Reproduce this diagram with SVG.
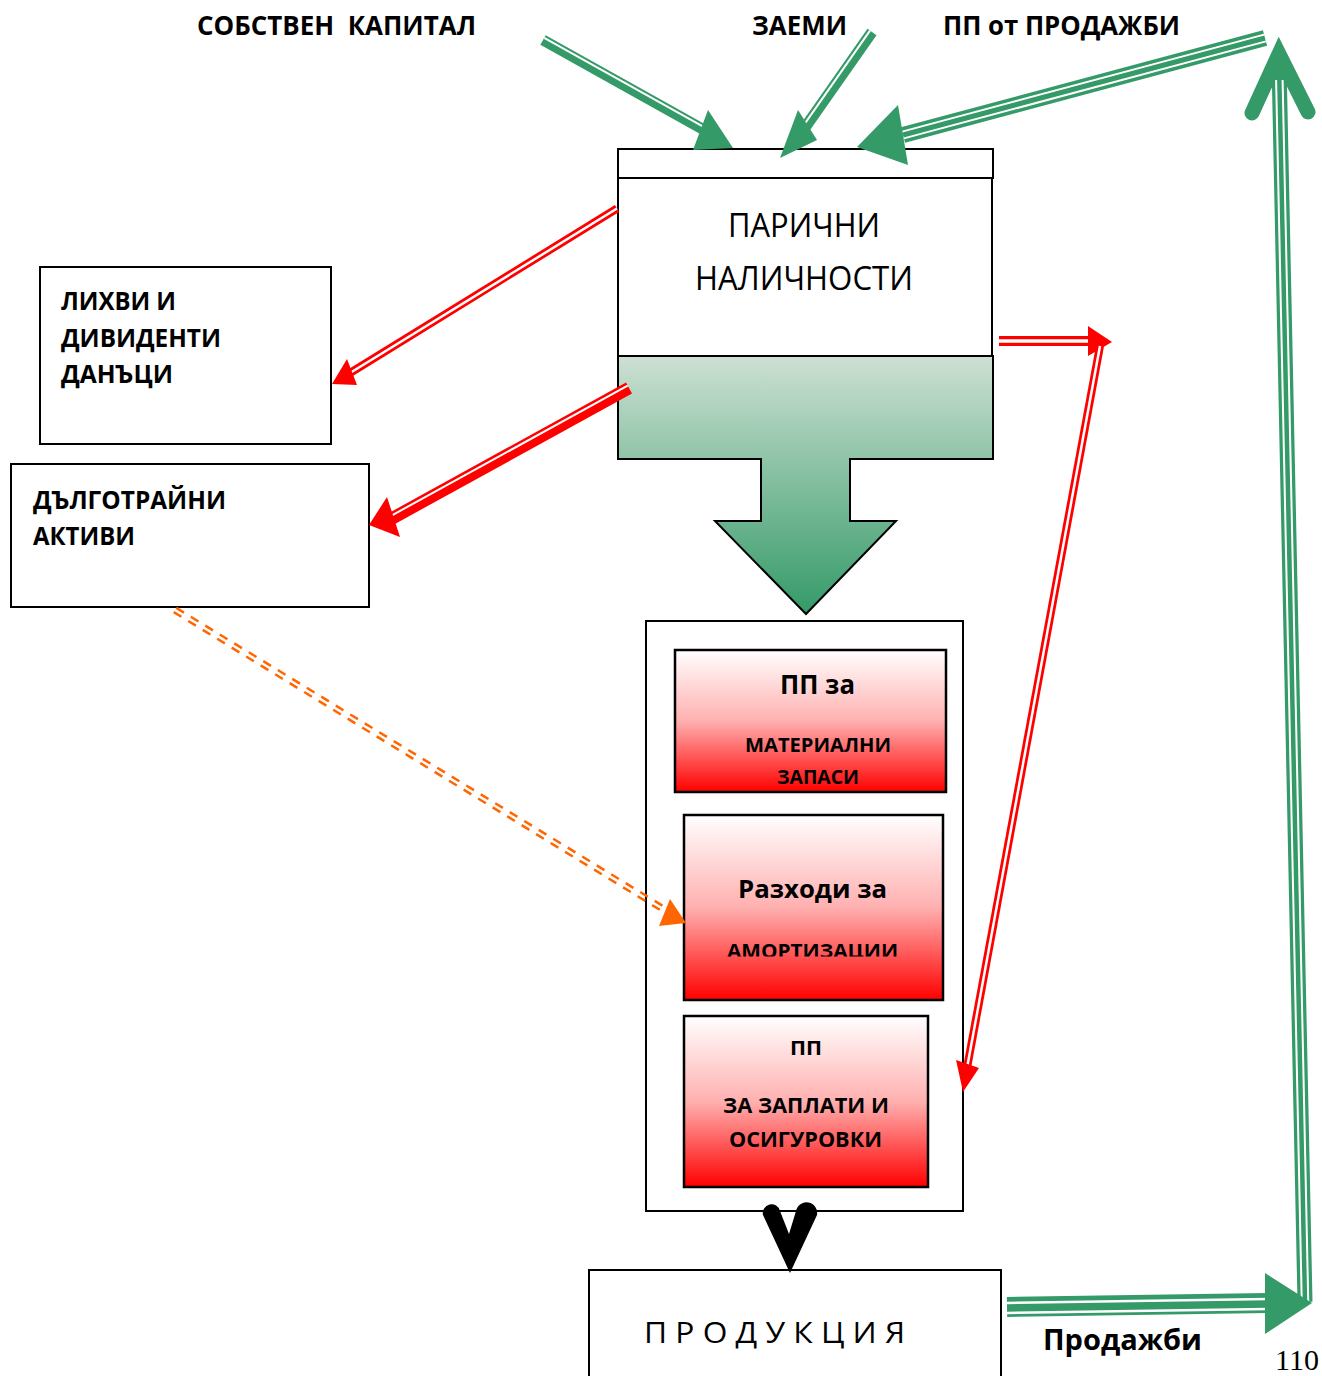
<svg xmlns="http://www.w3.org/2000/svg" width="1322" height="1376" viewBox="0 0 1322 1376">
<style>
.b{font-family:"Open Sans","Noto Sans",sans-serif;font-weight:700;fill:#000}
.n{font-family:"Open Sans","Noto Sans",sans-serif;font-weight:400;fill:#000}
.box{fill:#fff;stroke:#000;stroke-width:2}
.rbox{fill:url(#redg);stroke:#000;stroke-width:2.5}
.g{stroke:#349a68;fill:none}
.gf{fill:#349a68}
.w{stroke:#fff;fill:none}
.rd{stroke:#ff0000;fill:none}
.rf{fill:#ff0000}
.or{stroke:#ff6600;stroke-width:2.5;stroke-dasharray:9 8;fill:none}
.of{fill:#ff6600}
</style>
<defs>
<linearGradient id="redg" x1="0" y1="0" x2="0" y2="1">
<stop offset="0" stop-color="#ffffff"/>
<stop offset="0.5" stop-color="#ffb0b0"/>
<stop offset="1" stop-color="#ff0000"/>
</linearGradient>
<linearGradient id="greeng" gradientUnits="userSpaceOnUse" x1="0" y1="356" x2="0" y2="614">
<stop offset="0" stop-color="#cde0d3"/>
<stop offset="1" stop-color="#349a68"/>
</linearGradient>
<clipPath id="amclip"><rect x="684" y="815" width="259" height="141.5"/></clipPath>
</defs>
<rect x="0" y="0" width="1322" height="1376" fill="#fff"/>

<g id="label-sobstven">
<text class="b" x="197" y="35" font-size="26" textLength="279" lengthAdjust="spacingAndGlyphs" xml:space="preserve">СОБСТВЕН  КАПИТАЛ</text>
</g>
<g id="label-zaemi">
<text class="b" x="752" y="35" font-size="26" textLength="95" lengthAdjust="spacingAndGlyphs">ЗАЕМИ</text>
</g>
<g id="label-pp-prodazhbi">
<text class="b" x="943" y="35" font-size="26" textLength="237" lengthAdjust="spacingAndGlyphs">ПП от ПРОДАЖБИ</text>
</g>

<g id="parichni">
<rect class="box" x="618" y="149" width="375" height="29"/>
<path d="M618,356 H993 V459 H850 V521 H896 L806,614 L715,521 H761 V459 H618 Z" fill="url(#greeng)" stroke="#000" stroke-width="2"/>
<rect class="box" x="618" y="178" width="374" height="178" stroke-width="2.5"/>
<text class="n" x="728" y="237" font-size="32" textLength="152" lengthAdjust="spacingAndGlyphs">ПАРИЧНИ</text>
<text class="n" x="695" y="290" font-size="32" textLength="218" lengthAdjust="spacingAndGlyphs">НАЛИЧНОСТИ</text>
</g>

<g id="lihvi">
<rect class="box" x="40" y="267" width="291" height="177"/>
<text class="b" x="61" y="310" font-size="25" textLength="115" lengthAdjust="spacingAndGlyphs">ЛИХВИ И</text>
<text class="b" x="61" y="347" font-size="25" textLength="160" lengthAdjust="spacingAndGlyphs">ДИВИДЕНТИ</text>
<text class="b" x="61" y="383" font-size="25" textLength="112" lengthAdjust="spacingAndGlyphs">ДАНЪЦИ</text>
</g>

<g id="dalgotrayni">
<rect class="box" x="11" y="464" width="358" height="143"/>
<text class="b" x="33" y="509" font-size="25" textLength="193" lengthAdjust="spacingAndGlyphs">ДЪЛГОТРАЙНИ</text>
<text class="b" x="33" y="545" font-size="25" textLength="102" lengthAdjust="spacingAndGlyphs">АКТИВИ</text>
</g>

<g id="razhodi-container">
<rect class="box" x="646" y="621" width="317" height="590"/>
</g>

<g id="pp-materialni">
<rect class="rbox" x="675" y="650" width="271" height="142"/>
<text class="b" x="780" y="694" font-size="26" textLength="75" lengthAdjust="spacingAndGlyphs">ПП за</text>
<text class="b" x="745" y="752" font-size="20" textLength="146" lengthAdjust="spacingAndGlyphs">МАТЕРИАЛНИ</text>
<text class="b" x="777" y="784" font-size="20" textLength="82" lengthAdjust="spacingAndGlyphs">ЗАПАСИ</text>
</g>

<g id="razhodi-amortizacii">
<rect class="rbox" x="684" y="815" width="259" height="185"/>
<text class="b" x="738" y="898" font-size="25" textLength="149" lengthAdjust="spacingAndGlyphs">Разходи за</text>
<text class="b" x="727" y="958" font-size="20" textLength="171" lengthAdjust="spacingAndGlyphs" clip-path="url(#amclip)">АМОРТИЗАЦИИ</text>
</g>

<g id="pp-zaplati">
<rect class="rbox" x="684" y="1016" width="244" height="171"/>
<text class="b" x="790" y="1055" font-size="19" textLength="32" lengthAdjust="spacingAndGlyphs">ПП</text>
<text class="b" x="723" y="1113" font-size="21" textLength="166" lengthAdjust="spacingAndGlyphs">ЗА ЗАПЛАТИ И</text>
<text class="b" x="729" y="1147" font-size="21" textLength="153" lengthAdjust="spacingAndGlyphs">ОСИГУРОВКИ</text>
</g>

<g id="produkcia">
<rect class="box" x="589" y="1270" width="412" height="120"/>
<text class="n" x="644" y="1343" font-size="30" textLength="261" lengthAdjust="spacingAndGlyphs">П Р О Д У К Ц И Я</text>
</g>

<g id="label-prodazhbi">
<text class="b" x="1043" y="1350" font-size="28" textLength="159" lengthAdjust="spacingAndGlyphs">Продажби</text>
</g>
<g id="page-number">
<text x="1275" y="1370" font-family="'Liberation Serif',serif" font-size="29" textLength="44" lengthAdjust="spacingAndGlyphs">110</text>
</g>

<g id="connectors">
<!-- Sobstven kapital -->
<line class="g" x1="543" y1="40" x2="706" y2="131" stroke-width="11"/>
<line class="w" x1="544.2" y1="37.8" x2="707.2" y2="128.8" stroke-width="2"/>
<polygon class="gf" points="733,148 708,110 693,150"/>
<!-- Zaemi -->
<line class="g" x1="872" y1="32" x2="804" y2="129" stroke-width="11"/>
<line class="w" x1="870" y1="30.6" x2="802" y2="127.6" stroke-width="2"/>
<polygon class="gf" points="780,158 798,110 817,140"/>
<!-- PP ot prodazhbi -->
<line class="g" x1="1265" y1="38" x2="903" y2="135" stroke-width="16"/>
<line class="w" x1="1264.1" y1="34.6" x2="902.1" y2="131.6" stroke-width="2"/>
<line class="w" x1="1265.9" y1="41.4" x2="903.9" y2="138.4" stroke-width="2"/>
<polygon class="gf" points="857,147 898,105 908,165"/>
<!-- vertical return -->
<line class="g" x1="1305" y1="1302" x2="1279" y2="62" stroke-width="15"/>
<line class="w" x1="1301.75" y1="1302" x2="1276.1" y2="80" stroke-width="2"/>
<line class="w" x1="1308.25" y1="1302" x2="1282.6" y2="80" stroke-width="2"/>
<polyline class="g" points="1252,113 1279,54 1308,112" stroke-width="15" stroke-linecap="round" stroke-linejoin="miter"/>
<!-- Prodazhbi -->
<line class="g" x1="1007" y1="1307" x2="1268" y2="1303" stroke-width="20"/>
<line class="w" x1="1007" y1="1303" x2="1268" y2="1299" stroke-width="2.5"/>
<line class="w" x1="1007" y1="1313" x2="1268" y2="1309" stroke-width="2.5"/>
<polygon class="gf" points="1265,1273 1312,1303 1265,1334"/>
<!-- to lihvi -->
<line class="rd" x1="617" y1="208.5" x2="350" y2="373" stroke-width="8"/>
<line class="w" x1="617" y1="208.5" x2="350" y2="373" stroke-width="2.5"/>
<polygon class="rf" points="332,384 347,359 357,385"/>
<!-- to dalgotrayni -->
<line class="rd" x1="629" y1="388" x2="391" y2="519" stroke-width="12.5"/>
<line class="w" x1="627.7" y1="385.6" x2="389.7" y2="516.6" stroke-width="2"/>
<polygon class="rf" points="369,525 387,497 400,537"/>
<!-- right red -->
<line class="rd" x1="999" y1="341" x2="1092" y2="341" stroke-width="10"/>
<line class="w" x1="999" y1="341" x2="1092" y2="341" stroke-width="3.3"/>
<polygon class="rf" points="1088,326 1112,342 1088,356"/>
<line class="rd" x1="1100" y1="346" x2="967" y2="1068" stroke-width="8"/>
<line class="w" x1="1100" y1="346" x2="967" y2="1068" stroke-width="2.5"/>
<polygon class="rf" points="963,1092 956,1060 979,1068"/>
<!-- orange dashed -->
<line class="or" x1="176.3" y1="607.9" x2="667.3" y2="908.6"/>
<line class="or" x1="173.7" y1="612.1" x2="664.7" y2="912.8"/>
<polygon class="of" points="686,923 670,899 659,926"/>
<!-- black arrow -->
<path d="M763,1215 A8.5,8.5 0 0 1 780,1211 L789,1234 L796,1211 A10.5,10.5 0 0 1 817,1215 L790,1273 Z" fill="#000"/>
</g>
</svg>
